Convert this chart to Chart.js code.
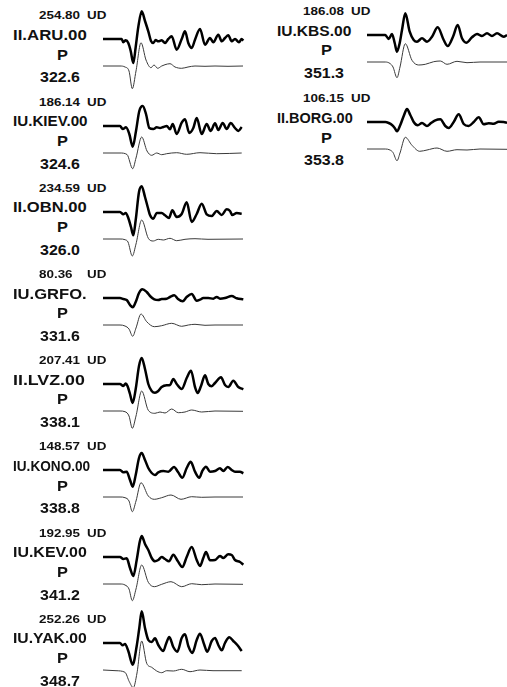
<!DOCTYPE html>
<html><head><meta charset="utf-8">
<script src="https://cdn.jsdelivr.net/npm/chart.js@4"></script>
<style>
html,body{margin:0;padding:0;background:#fff;width:507px;height:687px;overflow:hidden;}
#wrap{position:relative;width:507px;height:687px;}
canvas{position:absolute;}
.t{position:absolute;font-family:"Liberation Sans",Arial,sans-serif;font-weight:bold;color:#111;white-space:nowrap;line-height:1;transform-origin:0 50%;}
</style></head>
<body><div id="wrap"></div>
<script>
// ---- data ----
const stations   = ["II.ARU.00","IU.KIEV.00","II.OBN.00","IU.GRFO.","II.LVZ.00","IU.KONO.00","IU.KEV.00","IU.YAK.00","IU.KBS.00","II.BORG.00"];
const amplitudes = ["254.80","186.14","234.59","80.36","207.41","148.57","192.95","252.26","186.08","106.15"];
const component  = "UD";
const phase      = "P";
const azimuths   = ["322.6","324.6","326.0","331.6","338.1","338.8","341.2","348.7","351.3","353.8"];

// observed (thick) traces: [time, amplitude]
const obs_ARU  = [[0,0],[18.7,0],[20.3,-3.3],[22.7,-1.3],[25.3,-4],[27.7,-12],[30.3,-24],[32.7,-8],[35.3,12],[38.7,27.7],[42,18],[45.3,7.7],[48,-2],[50.3,-4],[52.7,-1],[55.3,-2.3],[58.7,-1.3],[62,-4],[65.3,0],[68.7,2.7],[73.7,-10.7],[78.7,0],[82,7.7],[85.3,-4],[88.7,-9],[92,-0.7],[97,10],[102,-5.7],[107,1],[110.3,-3.3],[115.3,4.3],[118.7,-2.3],[122,1],[125.3,3.7],[128.7,-2.3],[132,0],[136,-3.3],[138.7,0],[140.3,-1.7]];
const obs_KIEV = [[0,0],[17,0],[19.7,-3],[23,-1.3],[26.3,-8],[29.7,-20.7],[33,-5],[36.3,15],[39.7,20],[43,12],[46.3,-2],[50.3,-3],[53.7,-1.3],[57,-2],[60.3,-1],[63.7,0],[67,-3.3],[69.7,2],[73.7,-8],[78.7,3.3],[82,6.7],[86.3,-7],[90.3,-2],[93.7,8],[98.7,-8],[103.7,2],[107.7,-5],[112,2.7],[115.3,-4],[119.7,3],[123.7,-3],[127.7,3],[132,-2],[135.3,-5],[138.7,-1]];
const obs_OBN  = [[0,0],[17,0],[20.3,-2.3],[22.7,-1],[25.3,-6],[28,-15],[30.3,-23.3],[32.7,-8],[36,20],[38.7,25.7],[42,15],[44.7,5],[47,-3],[50.3,-6.7],[53.7,-1],[58.7,-1],[62,-3.3],[66,-6],[69.3,1.7],[73.7,-5],[78.7,-2],[83.7,9.7],[88.7,-10],[93.7,-2],[98.7,8.3],[103.7,-2.3],[108.7,-4],[113.7,1],[118.7,-3],[123.7,2.7],[127,1],[129.3,-3],[133.7,-1],[138.7,-1.7]];
const obs_GRFO = [[0,0],[17,0],[20.3,-1],[23.7,-2],[27,-7],[29.7,-9.3],[32.7,-4],[36,5],[39.3,8.7],[43.7,6],[47,2],[51.3,-1.3],[55.3,-2],[58.7,-1],[63.7,-0.7],[67,1],[71.3,2.7],[75,-1],[79.7,-3.3],[83.7,1],[88.7,4],[93.7,-2.7],[97,-1.7],[100.3,0],[105.3,0],[110.3,-0.7],[113.7,1],[117,-0.7],[122,0],[128.7,2],[133.7,-0.3],[140.3,-1.3]];
const obs_LVZ  = [[0,0],[17,0],[20.3,-2],[22.7,0.5],[24.5,-2],[27,-10],[29.7,-19],[32.7,-5],[36,18],[38.7,26],[42,15],[45.3,0],[48.7,-7],[52,-8.7],[55.3,-7],[58.7,-3],[63.7,-1.3],[67,-1],[70.3,5],[73.7,0],[78.7,-5],[83.7,6],[88,13.3],[92,-3],[94.7,-9],[98,-2],[102,8.7],[105.3,0],[108.7,-2.3],[112,1],[118,6.7],[122,-1],[125.3,-3],[130.3,3.3],[135.3,-3],[140.3,-5.3]];
const obs_KONO = [[0,0],[17,0],[20.3,-2.3],[23.7,-1.7],[27,-10],[29.7,-16.7],[32.7,-5],[36,12],[38.7,17],[42,10],[45.3,2],[48.7,-3],[52,-5],[55.3,-2.3],[60.3,-1],[65.3,-1.7],[71,3],[75,-2],[79.3,-7.7],[83.7,2],[87.7,8.3],[92,-1.7],[96.3,-7.7],[99.3,-1],[103,3.3],[107,-1.7],[112,-1],[117,1.7],[120.3,-1],[124.7,3],[128.7,0],[132,-1.7],[137,-1.7],[140.3,-3.3]];
const obs_KEV  = [[0,0],[17,0],[20.3,-2],[23.7,-1.3],[27,-11],[30.3,-19],[33.7,-3],[36.7,15],[38.7,21],[42,13],[45.3,7],[48.7,-1],[52,-4.3],[55.3,-3],[58.7,0],[62,-2],[66,-4.3],[70.3,2.3],[74.7,-4],[79.3,-10],[83.7,0],[88.7,10],[93.7,-3],[97,-9],[100.3,-1],[103,5],[107,-3.3],[112,-3],[117,1],[120.3,-1],[125.3,2.7],[128.7,2],[132,-3],[137,-5],[140.3,-7.7]];
const obs_YAK  = [[0,0],[17,0],[19.7,-2.3],[22,-1],[25.3,-8],[29.7,-21.7],[33.7,-3],[36.3,15],[38.7,31.7],[42,15],[45.3,3],[48.7,1],[52,4.7],[55.3,-2],[60.3,-8],[63,-1],[66.3,6],[70.3,-4],[74.3,-8.7],[78.7,5],[82,8.7],[85.3,-3],[89.3,-10],[93.7,3],[97,9.3],[101,-1],[104.3,-8.7],[108.7,2],[112,5],[115.3,-2],[118.7,-7.3],[122,0],[126.3,5.7],[130.3,2],[134.3,-2],[138.7,-8]];
const obs_KBS  = [[0,0],[18.3,0],[21.7,-4],[25,1],[27.7,-8],[30,-16.7],[32.7,-8],[35,5],[38.3,21.7],[42.7,3.3],[46.7,-5],[50,-6.7],[55,-3.3],[60,-6.7],[65,-1.7],[70.7,7.7],[76.7,-5],[80.7,-11],[86,-1.7],[90.7,10],[95,-3.3],[99.3,-7.7],[105,-2.3],[110,1],[115,-1],[120,1.7],[125,-1],[130,1.7],[136.7,-1.7],[140,0]];
const obs_BORG = [[0,0],[18.3,0],[21.7,-1],[25,-3],[27.7,-6],[30,-9.3],[33.3,-3],[36.7,6],[40,13],[43.3,7],[46.7,0],[50.7,-3.3],[55,-1],[60,-4],[64,-1],[68.3,1.7],[73.3,2.7],[78.3,-4],[81.7,-6],[86.7,0],[91.7,7.7],[96.7,-2],[101.7,-4],[106.7,0],[111.7,4.7],[116.7,-2.3],[121.7,-1.3],[126.7,-1.7],[131.7,0.3],[136.7,0],[140,-0.7]];

// synthetic (thin) traces: [time, amplitude]
const syn_ARU  = [[0,0],[17,0],[22,-1],[26,-5],[29.3,-22.7],[33,-5],[38,23.3],[43,6],[48,-1.7],[51,1],[54.7,-2.3],[58.7,0],[62,1.3],[67,2.3],[72,-1],[78.7,-2.3],[85,-1],[92,0],[102,-0.3],[112,0],[125,-0.3],[140,0]];
const syn_KIEV = [[0,0],[17,0],[24,-1.5],[29.7,-15.7],[33,-5],[38.7,16],[44,2],[48.7,-2.3],[53.7,0],[58.7,-1.7],[63.7,-0.7],[73.7,0.3],[83.7,-1.3],[97,0.3],[113.7,-0.7],[138.7,0]];
const syn_OBN  = [[0,0],[17,0],[22,-0.7],[25,-3],[29.3,-17],[33,-5],[38.7,19],[45.3,0.7],[50.3,-2],[55.3,-0.3],[60.3,-1],[67,0.7],[73.7,-1.7],[82,-0.3],[92,0.3],[105,-0.3],[140,0]];
const syn_GRFO = [[0,0],[17,0],[22,-1],[26,-4],[29.7,-11.3],[33,-3],[38,11],[43.7,3.3],[51.3,-1.7],[58.7,-0.7],[68.7,1.7],[78.7,-1.3],[85.3,0],[92,0.7],[102,-0.3],[112,0],[140,0]];
const syn_LVZ  = [[0,0],[17,0],[22,-0.7],[26,-5],[29.3,-17.3],[33,-5],[38.7,20],[45.3,0.7],[52,-2.3],[57,-1],[62,-2],[68.7,2],[75.3,-1.7],[82,-1],[88.7,1],[98.7,-1],[112,0],[140,-0.3]];
const syn_KONO = [[0,0],[17,0],[22,-0.7],[26,-4],[29.3,-14.7],[33,-4],[38,14.3],[45.3,1],[51.3,-2.3],[58.7,-0.7],[68,2],[78,-2.3],[88.7,0.3],[98.7,-0.3],[112,0],[140,0]];
const syn_KEV  = [[0,0],[17,0],[22,-1],[26,-5],[29.3,-16.7],[33,-5],[38.7,19],[45.3,1.7],[51.3,-2.7],[58.7,-0.3],[68,2.3],[78.7,-2.7],[88.7,0.3],[98.7,-0.7],[112,0],[140,-0.3]];
const syn_YAK  = [[0,0],[13,-0.7],[22,-2.3],[26.3,-11.7],[30.3,-17.7],[34,-3],[38.7,29],[43.7,6.7],[48.7,2.7],[53.7,-1],[58.7,-2.7],[63.7,-0.7],[70.3,-1],[78.7,0.7],[87,-1.7],[97,0],[110,-0.7],[138.7,-0.7]];
const syn_KBS  = [[0,0],[18.3,0],[23,-1.5],[26,-5],[30,-15.7],[33,-5],[38.3,18.3],[45,1.7],[51.7,-3],[58.3,-2.3],[66.7,0.3],[73.3,1],[80,-2.3],[90,0.7],[100,-0.7],[113,0],[140,0]];
const syn_BORG = [[0,0],[18.3,0],[23,-1],[26,-3.5],[30,-11.7],[33,-4],[38.3,11.7],[45,3.7],[52.7,-2.3],[60,-1],[70,1],[80,-2.3],[90,-0.7],[100,-1],[113,0],[140,-0.3]];

const obsTraces = [obs_ARU,obs_KIEV,obs_OBN,obs_GRFO,obs_LVZ,obs_KONO,obs_KEV,obs_YAK,obs_KBS,obs_BORG];
const synTraces = [syn_ARU,syn_KIEV,syn_OBN,syn_GRFO,syn_LVZ,syn_KONO,syn_KEV,syn_YAK,syn_KBS,syn_BORG];

// ---- layout ----
const SYN_SHIFT = -27;       // vertical separation of synthetic trace
const TOP_PAD = 35, BOT_PAD = 52;
const wrap = document.getElementById('wrap');

function panelPos(i){
  if(i < 8) return {col:0, base: 39.3 + 86.2*i};
  return {col:1, base: 35 + 87.3*(i-8)};
}
function addText(txt, x, y, size, sx, fit){
  const d = document.createElement('div');
  d.className = 't';
  d.textContent = txt;
  d.style.left = x + 'px';
  d.style.top = (y - size/2) + 'px';
  d.style.fontSize = size + 'px';
  d.style.height = size + 'px';
  wrap.appendChild(d);
  if (fit) {
    const w = d.offsetWidth;
    sx = (61 + 0.2 * w) / w;
  }
  d.style.transform = 'scaleX(' + sx + ')';
  return d;
}

stations.forEach((name, i) => {
  const p = panelPos(i);
  const dx = p.col * 264;
  addText(amplitudes[i], 39 + dx, p.base - 23.5, 11, 1.22);
  addText(component, 87 + dx, p.base - 23.5, 11, 1.22);
  addText(name, 12.5 + dx, p.base - 4.3, 14, 1, true);
  addText(phase, 56.5 + dx, p.base + 15.3, 14, 1.17);
  addText(azimuths[i], 40 + dx, p.base + 38, 14, 1.14);

  const cv = document.createElement('canvas');
  const W = 142, H = TOP_PAD + BOT_PAD;
  cv.width = W; cv.height = H;
  cv.style.left = (103 + dx) + 'px';
  cv.style.top = (p.base - TOP_PAD) + 'px';
  cv.style.width = W + 'px'; cv.style.height = H + 'px';
  wrap.appendChild(cv);

  new Chart(cv.getContext('2d'), {
    type: 'line',
    data: {
      datasets: [
        {data: obsTraces[i].map(d => ({x:d[0], y:d[1]})), borderColor:'#000', borderWidth:2.5,
         pointRadius:0, fill:false, cubicInterpolationMode:'monotone', clip:false},
        {data: synTraces[i].map(d => ({x:d[0], y:d[1] + SYN_SHIFT})), borderColor:'#3a3a3a', borderWidth:1,
         pointRadius:0, fill:false, cubicInterpolationMode:'monotone', clip:false}
      ]
    },
    options: {
      responsive:false, animation:false, devicePixelRatio:1,
      layout:{padding:0},
      plugins:{legend:{display:false}, tooltip:{enabled:false}},
      events: [],
      scales:{
        x:{type:'linear', min:0, max:W, display:false},
        y:{type:'linear', min:-BOT_PAD, max:TOP_PAD, display:false}
      }
    }
  });
});
</script></body></html>
